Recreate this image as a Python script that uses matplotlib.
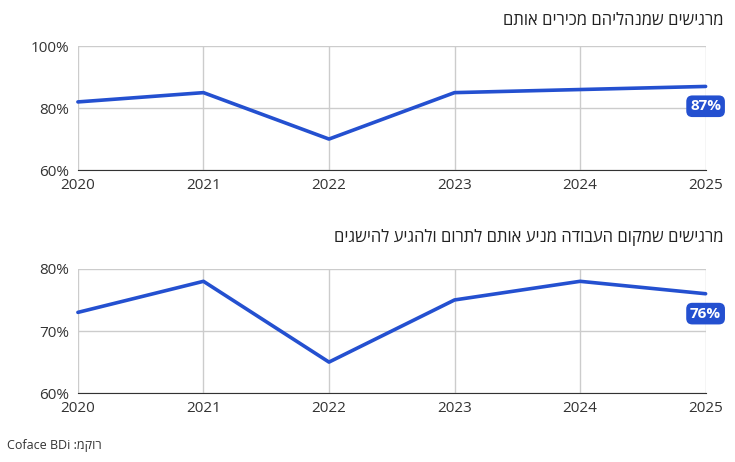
import matplotlib
matplotlib.use("Agg")
import matplotlib.pyplot as plt

plt.rcParams['font.family'] = ['Open Sans', 'DejaVu Sans']

years = [2020, 2021, 2022, 2023, 2024, 2025]
top_vals = [82, 85, 70, 85, 86, 87]
bot_vals = [73, 78, 65, 75, 78, 76]
top_title = "מרגישים שמנהליהם מכירים אותם"
bot_title = "מרגישים שמקום העבודה מניע אותם לתרום ולהגיע להישגים"
source = "Coface BDi :מקור"

def vis(s):
    return s[::-1]

blue = "#2450d0"
fig = plt.figure(figsize=(7.35, 4.62), dpi=100)

def panel(rect, vals, ylim, ticks, title, ty):
    ax = fig.add_axes(rect)
    ax.plot(years, vals, color=blue, lw=2.6, solid_capstyle='round', zorder=3, clip_on=False)
    ax.set_xlim(years[0], years[-1])
    ax.set_ylim(*ylim)
    ax.set_yticks(ticks)
    ax.set_yticklabels([f"{t}%" for t in ticks])
    ax.set_xticks(years)
    ax.grid(True, color="#cccccc", lw=1)
    for s in ['top', 'right', 'left']:
        ax.spines[s].set_visible(False)
    ax.spines['bottom'].set_color('#333333')
    ax.tick_params(length=0, labelsize=11, colors='#333333', pad=6)
    ax.text(years[-1], vals[-1] - (ylim[1]-ylim[0])*0.16, f"{vals[-1]}%", color='white',
            fontsize=11, fontweight='bold', ha='center', va='center', zorder=4, clip_on=False,
            bbox=dict(boxstyle='round,pad=0.25,rounding_size=0.4', fc=blue, ec='none'))
    fig.text(0.985, ty, vis(title), ha='right', va='center',
             fontsize=12, color='#222222')
    return ax

panel([0.106, 0.632, 0.854, 0.268], top_vals, (60, 100), [60, 80, 100], top_title, 0.955)
panel([0.106, 0.149, 0.854, 0.269], bot_vals, (60, 80), [60, 70, 80], bot_title, 0.485)
fig.text(0.01, 0.035, source, ha='left', va='center', fontsize=9, color='#333333')
fig.savefig("out.png", dpi=100)
